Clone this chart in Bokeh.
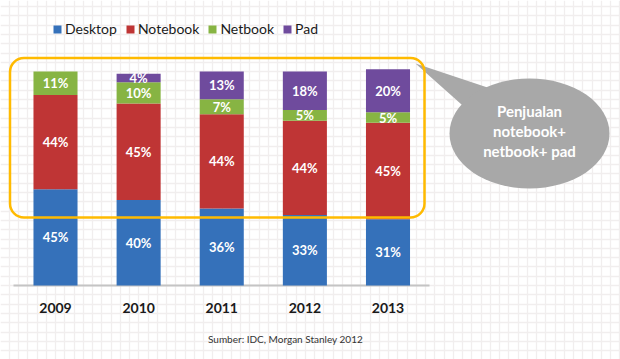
from bokeh.plotting import figure
from bokeh.models import (Range1d, Legend, LegendItem, BoxAnnotation, Grid,
                          SingleIntervalTicker)
from bokeh.core.properties import value
from bokeh.embed import file_html
from bokeh.resources import INLINE

# ---- data -------------------------------------------------------------
years = ["2009", "2010", "2011", "2012", "2013"]
series = ["Desktop", "Notebook", "Netbook", "Pad"]
desktop = [45, 40, 36, 33, 31]
notebook = [44, 45, 44, 44, 45]
netbook = [11, 10, 7, 5, 5]
pad = [0, 4, 13, 18, 20]
colors = ["#3571BA", "#BF3535", "#87B443", "#6F4B9D"]
callout_lines = ["Penjualan", "notebook+", "netbook+ pad"]
source_note = "Sumber: IDC, Morgan Stanley 2012"

# ---- layout helpers -----------------------------------------------------
W, H = 620, 359
X0, DX = 55.0, 83.125      # page pixel of first bar centre, pixels per category
Y0, DY = 74.0, 2.14        # pixel (from bottom) of 0 %, pixels per percent


def px(x):  # page x -> data x
    return (x - X0) / DX


def py(y):  # page y -> data y
    return (H - y - Y0) / DY


p = figure(width=W, height=H, min_border=0, x_axis_location=None,
           y_axis_location=None, toolbar_location=None, output_backend="svg",
           x_range=Range1d(-X0 / DX, (W - X0) / DX),
           y_range=Range1d(-Y0 / DY, (H - Y0) / DY),
           outline_line_color=None, background_fill_color="white",
           border_fill_color="white")

# graph-paper background
p.grid.visible = False
gx = Grid(dimension=0, ticker=SingleIntervalTicker(interval=9.25 / DX),
          grid_line_color="#f1eeee", grid_line_width=1.3)
gy = Grid(dimension=1, ticker=SingleIntervalTicker(interval=9.3 / DY),
          grid_line_color="#f1eeee", grid_line_width=1.3)
p.add_layout(gx)
p.add_layout(gy)

idx = list(range(len(years)))
data = dict(x=idx, Desktop=desktop, Notebook=notebook, Netbook=netbook, Pad=pad)

# baseline
p.segment(x0=[px(13)], x1=[px(429)], y0=[0], y1=[0],
          line_color="#c4c4c4", line_width=2)

rs = p.vbar_stack(series, x="x", width=0.53, source=data, color=colors,
                  line_color=None)

# percent labels
lx, ly, lt = [], [], []
for i in idx:
    base = 0
    for s in series:
        v = data[s][i]
        if v > 0:
            lx.append(i)
            ly.append(base + v / 2)
            lt.append(f"{v}%")
        base += v
p.text(x=lx, y=ly, text=lt, text_align="center", text_baseline="middle",
       text_color="white", text_font=value("Lato"), text_font_style="bold",
       text_font_size="13px")

# year labels
p.text(x=idx, y=[py(307)] * len(idx), text=years, text_align="center",
       text_baseline="middle", text_color="#1a1a1a", text_font=value("Lato"),
       text_font_style="bold", text_font_size="14px")

# source note
p.text(x=[px(285)], y=[py(338)], text=[source_note], text_align="center",
       text_baseline="middle", text_color="#333333", text_font=value("Lato"),
       text_font_size="10px")

# highlight box
box = BoxAnnotation(left=px(9.5), right=px(424), top=py(57.5), bottom=py(217),
                    fill_color=None, fill_alpha=0, line_color="#FFBA00",
                    line_alpha=1.0, line_width=2.5, border_radius=14)
p.add_layout(box)

# callout bubble
p.patch(x=[px(415), px(490), px(470)], y=[py(63), py(88), py(112)],
        fill_color="#a8a8a8", line_color=None)
p.ellipse(x=[px(529)], y=[py(133)], width=160 / DX, height=110 / DY,
          fill_color="#a8a8a8", line_color=None)
p.text(x=[px(529)] * 3, y=[py(110), py(130), py(150)], text=callout_lines,
       text_align="center", text_baseline="middle", text_color="white",
       text_font=value("Lato"), text_font_style="bold", text_font_size="15px")

legend = Legend(items=[LegendItem(label=s, renderers=[r]) for s, r in zip(series, rs)],
                location=(52, H - 37), orientation="horizontal",
                glyph_width=10, glyph_height=10, label_standoff=3, spacing=8,
                padding=0, margin=0, border_line_color=None,
                background_fill_alpha=0, label_text_font="Lato",
                label_text_font_size="14px", label_text_color="#1a1a1a")
p.add_layout(legend)

open("out.html", "w").write(file_html(p, INLINE))
